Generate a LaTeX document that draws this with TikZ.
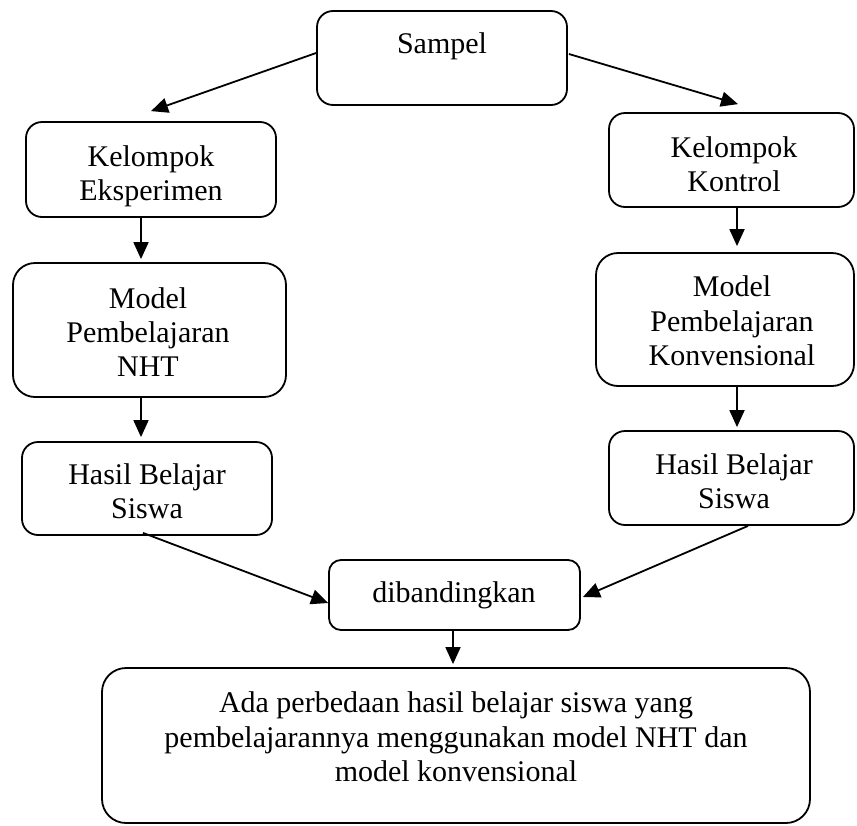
\documentclass[tikz,border=0pt]{standalone}
\usepackage{fontspec}
\setmainfont{Liberation Serif}
\usetikzlibrary{arrows.meta,fit,calc}
\begin{document}
\begin{tikzpicture}[x=0.5pt,y=-0.5pt,
  box/.style={draw,line width=0.9pt,inner sep=0pt,rectangle},
  txt/.style={align=center,inner sep=0pt,font=\fontsize{15pt}{17.2pt}\selectfont},
  arr/.style={line width=0.9pt,-{Triangle[length=8.5pt,width=7.5pt]}}]
\useasboundingbox (0,0) rectangle (857,825);
% boxes
\node[box,rounded corners=8pt,fit={(317,11) (567,105)}] (samp) {};
\node[box,rounded corners=8pt,fit={(26,122) (276,217)}] (ke) {};
\node[box,rounded corners=8pt,fit={(609,113) (854,207)}] (kk) {};
\node[box,rounded corners=11pt,fit={(13,263) (286,397)}] (mn) {};
\node[box,rounded corners=11pt,fit={(596,253) (854,386)}] (mk) {};
\node[box,rounded corners=8pt,fit={(22,442) (272,535)}] (hn) {};
\node[box,rounded corners=8pt,fit={(609,431) (854,525)}] (hk) {};
\node[box,rounded corners=6pt,fit={(329,560) (580,630)}] (dib) {};
\node[box,rounded corners=12pt,fit={(102,668) (810,823)}] (fin) {};
% texts
\node[txt] (tsamp) at (442,46) {Sampel};
\node[txt] (tke) at (151,176) {Kelompok\\Eksperimen};
\node[txt] (tkk) at (734,164) {Kelompok\\Kontrol};
\node[txt] (tmn) at (148,332) {Model\\Pembelajaran\\NHT};
\node[txt] (tmk) at (732,321) {Model\\Pembelajaran\\Konvensional};
\node[txt] (thn) at (147,491) {Hasil Belajar\\Siswa};
\node[txt] (thk) at (734,481) {Hasil Belajar\\Siswa};
\node[txt] (tdib) at (454,595) {dibandingkan};
\node[txt] (tfin) at (456,737) {Ada perbedaan hasil belajar siswa yang\\pembelajarannya menggunakan model NHT dan\\model konvensional};
% helper x positions for vertical arrows
\coordinate (xl) at (141,0);
\coordinate (xr) at (737,0);
\coordinate (xm) at (453,0);
% connectors
\draw[arr] ($(samp.west)+(0,-5)$) -- ($(ke.north)+(0,-10)$);
\draw[arr] ($(samp.east)+(1,-4)$) -- ($(kk.north)+(6.5,-8)$);
\draw[arr] (ke.south -| xl) -- ($(mn.north -| xl)+(0,-3)$);
\draw[arr] (mn.south -| xl) -- ($(hn.north -| xl)+(0,-4)$);
\draw[arr] (kk.south -| xr) -- ($(mk.north -| xr)+(0,-6)$);
\draw[arr] (mk.south -| xr) -- ($(hk.north -| xr)+(0,-3)$);
\draw[arr] ($(hn.south)+(-4,-3)$) -- ($(dib.west)+(0,8)$);
\draw[arr] ($(hk.south)+(16.5,0)$) -- ($(dib.east)+(2,2)$);
\draw[arr] (dib.south -| xm) -- ($(fin.north -| xm)+(0,-3)$);
\end{tikzpicture}
\end{document}
